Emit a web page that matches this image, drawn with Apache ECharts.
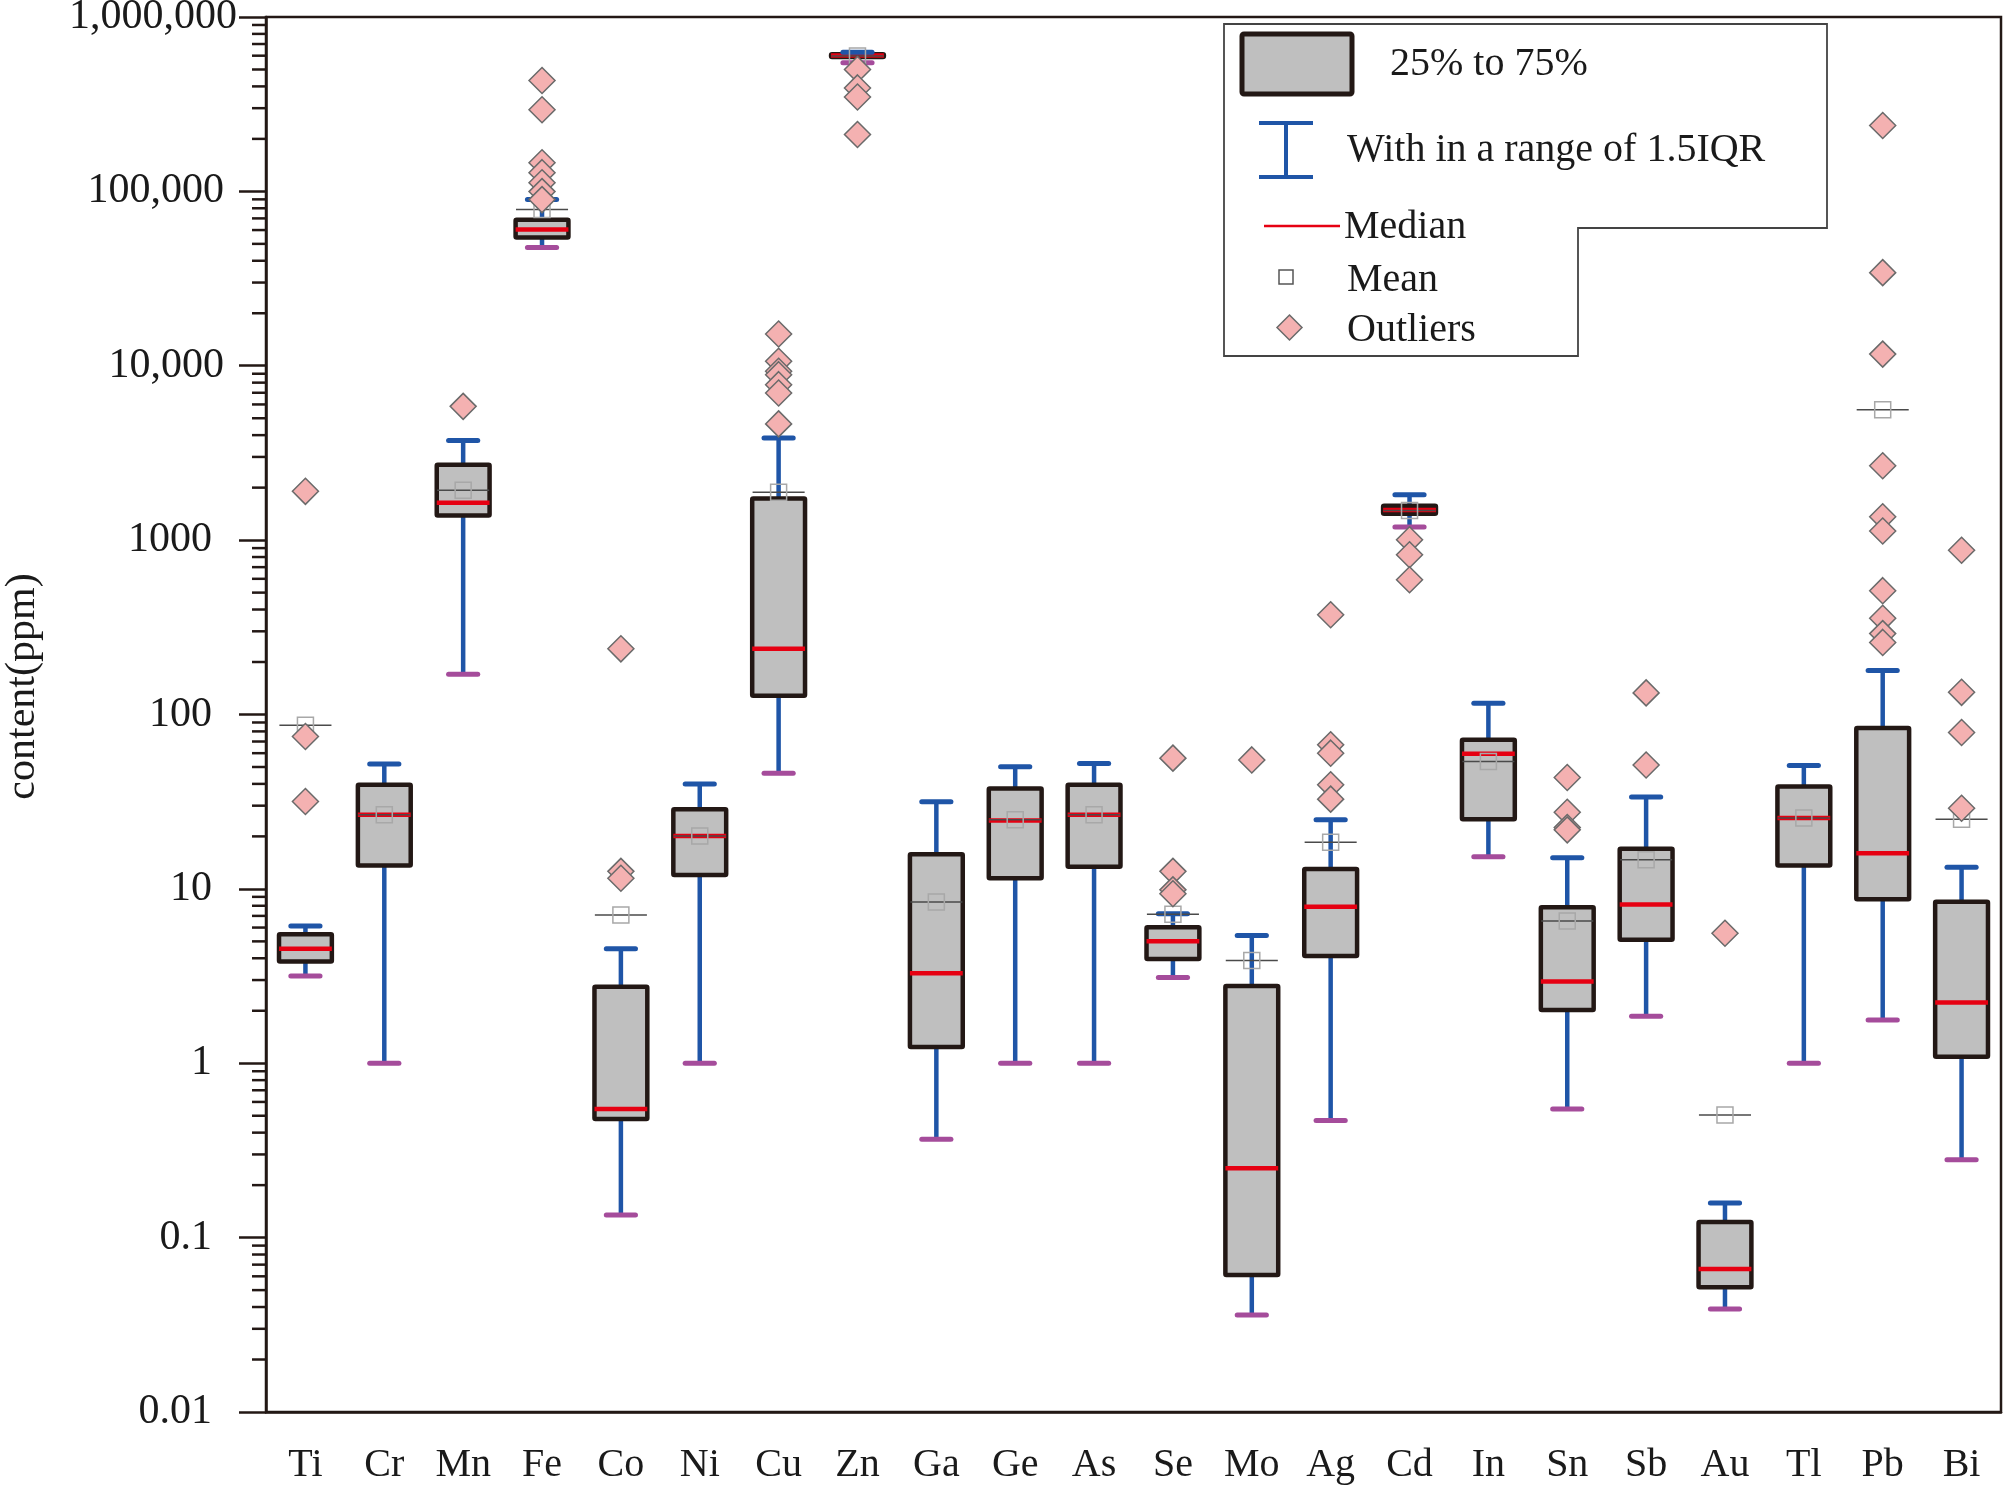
<!DOCTYPE html>
<html>
<head>
<meta charset="utf-8">
<script src="https://cdn.jsdelivr.net/npm/echarts@6/dist/echarts.min.js"></script>
<style>
html,body{margin:0;padding:0;background:#fff;}
#chart{width:2011px;height:1491px;}
</style>
</head>
<body>
<div id="chart"></div>
<script>
// ---- data (ppm) ----
const categories = ['Ti','Cr','Mn','Fe','Co','Ni','Cu','Zn','Ga','Ge','As','Se','Mo','Ag','Cd','In','Sn','Sb','Au','Tl','Pb','Bi'];
const whiskerLow  = [3.17, 1.0, 170, 47600, 0.135, 1.0, 46, 546000, 0.366, 1.0, 1.0, 3.10, 0.036, 0.47, 1190, 15.3, 0.547, 1.86, 0.039, 1.0, 1.77, 0.28];
const q1          = [3.83, 13.6, 1383, 54300, 0.479, 12.0, 128, 590000, 1.24, 11.5, 13.4, 3.96, 0.061, 4.12, 1417, 25.1, 2.02, 5.10, 0.052, 13.6, 8.73, 1.09];
const median      = [4.53, 26.6, 1640, 60400, 0.547, 20.1, 238, 601000, 3.28, 24.7, 26.6, 5.0, 0.25, 7.9, 1490, 59.5, 2.94, 8.13, 0.066, 25.5, 16.0, 2.23];
const q3          = [5.50, 39.5, 2710, 68800, 2.75, 28.6, 1730, 612000, 15.8, 37.6, 39.5, 6.03, 2.77, 13.0, 1575, 71.6, 7.85, 17.0, 0.123, 38.6, 83.6, 8.45];
const whiskerHigh = [6.13, 52.1, 3730, 89700, 4.53, 40.0, 3850, 628000, 31.6, 50.1, 52.4, 7.2, 5.40, 24.9, 1820, 116, 15.1, 33.6, 0.158, 51.0, 179, 13.3];
const mean        = [86.9, 26.6, 1930, 78700, 7.09, 20.1, 1880, 598000, 8.41, 24.9, 26.6, 7.15, 3.88, 18.5, 1480, 53.7, 6.55, 14.7, 0.505, 25.5, 5600, 25.1];
const outliers = [
  [1905, 74.8, 31.7],                                   // Ti
  [],                                                   // Cr
  [5850],                                               // Mn
  [432000, 294000, 146000, 128000, 112000, 99700, 89700], // Fe
  [238, 12.6, 11.5],                                    // Co
  [],                                                   // Ni
  [15200, 10600, 9290, 8890, 7790, 6980, 4640],         // Cu
  [500000, 392000, 348000, 212000],                     // Zn
  [], [], [],                                           // Ga Ge As
  [56.2, 12.6, 9.87, 9.38],                             // Se
  [54.9],                                               // Mo
  [373, 67, 60, 39.5, 32.7],                            // Ag
  [1004, 824, 593],                                     // Cd
  [],                                                   // In
  [43.5, 27.5, 22.5, 21.8],                             // Sn
  [133, 51.3],                                          // Sb
  [5.57],                                               // Au
  [],                                                   // Tl
  [238600, 34200, 11660, 2670, 1360, 1128, 513, 356, 291, 259], // Pb
  [875, 134, 78.8, 29.0]                                // Bi
];
const yTickLabels = ['0.01','0.1','1','10','100','1000','10,000','100,000','1,000,000'];
const minorDecades = [0.01, 0.1, 1, 10, 100, 1000, 10000, 100000];
const minorMultipliers = [2, 3, 4, 5, 6, 7, 8, 9];
const legendLabels = ['25% to 75%', 'With in a range of 1.5IQR', 'Median', 'Mean', 'Outliers'];

// ---- styles ----
const FONT = '"Liberation Serif", "Times New Roman", serif';
const C_BOX = '#BFBFBF', C_EDGE = '#231815', C_MED = '#E60012', C_WHI = '#1F55A7', C_LOW = '#A54C9B';
const C_PINK = '#F4B1B1', C_PINK_EDGE = '#6A6A6A';

const boxData = categories.map((c, i) => [i, whiskerLow[i], q1[i], median[i], q3[i], whiskerHigh[i], mean[i]]);
const outlierData = [];
outliers.forEach((arr, i) => arr.forEach(v => outlierData.push([i, v])));
const minorData = [];
minorDecades.forEach(d => minorMultipliers.forEach(m => minorData.push([0, d * m])));

function renderBox(params, api) {
  const i = api.value(0);
  const band = api.size([1, 1], [i, 1])[0];
  const x = api.coord([i, 1])[0];
  const yLow = api.coord([i, api.value(1)])[1];
  const yQ1 = api.coord([i, api.value(2)])[1];
  const yMed = api.coord([i, api.value(3)])[1];
  const yQ3 = api.coord([i, api.value(4)])[1];
  const yHigh = api.coord([i, api.value(5)])[1];
  const yMean = api.coord([i, api.value(6)])[1];
  const hw = band * 0.335, cw = band * 0.185, mw = band * 0.33;
  return {
    type: 'group',
    children: [
      { type: 'line', shape: { x1: x, y1: yQ3, x2: x, y2: yHigh }, style: { stroke: C_WHI, lineWidth: 4.5 } },
      { type: 'line', shape: { x1: x, y1: yQ1, x2: x, y2: yLow }, style: { stroke: C_WHI, lineWidth: 4.5 } },
      { type: 'rect', shape: { x: x - hw, y: yQ3, width: 2 * hw, height: Math.max(yQ1 - yQ3, 1), r: 1 },
        style: { fill: C_BOX, stroke: C_EDGE, lineWidth: 4.5 } },
      { type: 'line', shape: { x1: x - hw, y1: yMed, x2: x + hw, y2: yMed }, style: { stroke: C_MED, lineWidth: 4.5 } },
      { type: 'line', shape: { x1: x - cw, y1: yHigh, x2: x + cw, y2: yHigh }, style: { stroke: C_WHI, lineWidth: 5, lineCap: 'round' } },
      { type: 'line', shape: { x1: x - cw, y1: yLow, x2: x + cw, y2: yLow }, style: { stroke: C_LOW, lineWidth: 5, lineCap: 'round' } },
      { type: 'line', shape: { x1: x - mw, y1: yMean, x2: x + mw, y2: yMean }, style: { stroke: '#4A4A4A', lineWidth: 1.5 } },
      { type: 'rect', shape: { x: x - 8, y: yMean - 8, width: 16, height: 16 }, style: { fill: 'none', stroke: '#A8A8A8', lineWidth: 1.5 } }
    ]
  };
}

function renderMinorTick(params, api) {
  const y = api.coord([0, api.value(1)])[1];
  const x0 = params.coordSys.x;
  return { type: 'line', shape: { x1: x0 - 14, y1: y, x2: x0, y2: y }, style: { stroke: C_EDGE, lineWidth: 2.5 } };
}

function yLabel(v) {
  const s = yTickLabels[Math.round(Math.log10(v)) + 2];
  if (s === '1,000,000') return '{a|' + s + '}';
  if (s.indexOf(',') >= 0) return '{b|' + s + '}';
  return '{c|' + s + '}';
}

const legendText = (t, x, y) => ({
  type: 'text', x: x, y: y, z: 101,
  style: { text: t, font: '40px ' + FONT, fill: '#1a1a1a', align: 'left', verticalAlign: 'middle' }
});

const labelStyle = { color: '#1a1a1a', fontFamily: FONT, fontSize: 42 };

const chart = echarts.init(document.getElementById('chart'), null, { renderer: 'canvas' });
chart.setOption({
  backgroundColor: '#ffffff',
  animation: false,
  grid: { left: 266, right: 10, top: 17, bottom: 79, show: true, borderColor: C_EDGE, borderWidth: 2.5, outerBoundsMode: 'none', containLabel: false },
  xAxis: {
    type: 'category', data: categories, boundaryGap: true,
    axisLine: { onZero: false, lineStyle: { color: C_EDGE, width: 2.5 } },
    axisTick: { alignWithLabel: true, length: 25, lineStyle: { color: C_EDGE, width: 2.5 } },
    axisLabel: { color: '#1a1a1a', fontFamily: FONT, fontSize: 40, margin: 33, interval: 0 },
    splitLine: { show: false }
  },
  yAxis: {
    type: 'log', logBase: 10, min: 0.01, max: 1000000, splitNumber: 8,
    name: 'content(ppm)', nameLocation: 'middle', nameGap: 222,
    nameTextStyle: { color: '#1a1a1a', fontFamily: FONT, fontSize: 42, padding: [0, 0, 0, 56] },
    axisLine: { show: true, onZero: false, lineStyle: { color: C_EDGE, width: 2.5 } },
    axisTick: { show: true, length: 27, lineStyle: { color: C_EDGE, width: 2.5 } },
    axisLabel: {
      color: '#1a1a1a', fontFamily: FONT, fontSize: 42, margin: 29,
      formatter: yLabel,
      rich: {
        a: Object.assign({}, labelStyle),
        b: Object.assign({ padding: [0, 13, 0, 0] }, labelStyle),
        c: Object.assign({ padding: [0, 25, 0, 0] }, labelStyle)
      }
    },
    splitLine: { show: false }
  },
  series: [
    { type: 'custom', name: 'minor', data: minorData, renderItem: renderMinorTick, clip: false, silent: true, z: 1 },
    { type: 'custom', name: 'box', data: boxData, renderItem: renderBox, clip: false, z: 2,
      encode: { x: 0, y: [1, 2, 3, 4, 5, 6] } },
    { type: 'scatter', name: 'Outliers', data: outlierData, symbol: 'diamond', symbolSize: [26, 26], z: 3,
      itemStyle: { color: C_PINK, borderColor: C_PINK_EDGE, borderWidth: 1.5, opacity: 1 } }
  ],
  graphic: [
    { type: 'polygon', z: 100,
      shape: { points: [[1224, 24], [1827, 24], [1827, 228], [1578, 228], [1578, 356], [1224, 356]] },
      style: { fill: '#ffffff', stroke: '#444444', lineWidth: 1.8 } },
    { type: 'rect', z: 101, shape: { x: 1242, y: 34, width: 110, height: 60, r: 2 },
      style: { fill: C_BOX, stroke: C_EDGE, lineWidth: 5 } },
    legendText(legendLabels[0], 1390, 64),
    { type: 'line', z: 101, shape: { x1: 1286, y1: 123, x2: 1286, y2: 177 }, style: { stroke: C_WHI, lineWidth: 4 } },
    { type: 'line', z: 101, shape: { x1: 1259, y1: 123, x2: 1313, y2: 123 }, style: { stroke: C_WHI, lineWidth: 4 } },
    { type: 'line', z: 101, shape: { x1: 1259, y1: 177, x2: 1313, y2: 177 }, style: { stroke: C_WHI, lineWidth: 4 } },
    legendText(legendLabels[1], 1347, 150),
    { type: 'line', z: 101, shape: { x1: 1264, y1: 226, x2: 1340, y2: 226 }, style: { stroke: C_MED, lineWidth: 2.5 } },
    legendText(legendLabels[2], 1344, 227),
    { type: 'rect', z: 101, shape: { x: 1279, y: 270, width: 14, height: 14 }, style: { fill: '#fff', stroke: '#555', lineWidth: 1.5 } },
    legendText(legendLabels[3], 1347, 280),
    { type: 'polygon', z: 101, shape: { points: [[1289.5, 315], [1302, 327.5], [1289.5, 340], [1277, 327.5]] },
      style: { fill: C_PINK, stroke: C_PINK_EDGE, lineWidth: 1.5 } },
    legendText(legendLabels[4], 1347, 330)
  ]
});
</script>
</body>
</html>
